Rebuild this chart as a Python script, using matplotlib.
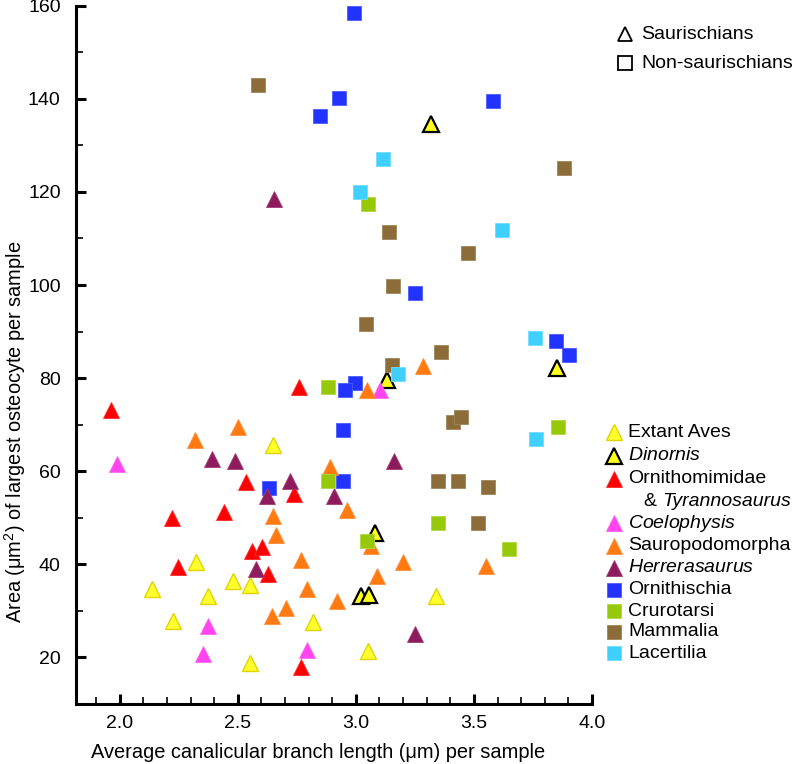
import matplotlib
matplotlib.use("Agg")
import matplotlib.pyplot as plt
from matplotlib.lines import Line2D
from matplotlib.ticker import MultipleLocator

plt.rcParams['font.family'] = ['Liberation Sans', 'DejaVu Sans']
plt.rcParams['mathtext.fontset'] = 'custom'
plt.rcParams['mathtext.rm'] = 'Liberation Sans'
plt.rcParams['mathtext.it'] = 'Liberation Sans:italic'

# values (x = branch length in um, y = area in um^2)
aves_x = [2.651, 3.339, 3.053, 2.817, 2.135, 2.324, 2.225, 2.375, 2.479, 2.550, 2.551]
aves_y = [65.7, 33.1, 21.3, 27.7, 34.8, 40.6, 27.9, 33.1, 36.5, 35.6, 18.9]

dinornis_x = [3.318, 3.130, 3.853, 3.080, 3.022, 3.054]
dinornis_y = [134.5, 79.7, 82.2, 46.7, 33.1, 33.4]

ornitho_x = [1.965, 2.758, 2.533, 2.737, 2.441, 2.223, 2.248, 2.561, 2.603, 2.629, 2.768]
ornitho_y = [73.1, 78.2, 57.6, 55.1, 51.3, 50.0, 39.4, 42.9, 43.8, 37.9, 18.0]

coelo_x = [1.989, 2.375, 2.352, 2.792, 3.104]
coelo_y = [61.6, 26.8, 20.7, 21.6, 77.5]

sauro_x = [2.318, 2.502, 3.047, 3.285, 2.892, 2.962, 2.651, 2.660, 2.768,
           2.792, 2.645, 2.705, 2.919, 3.089, 3.064, 3.198, 3.553]
sauro_y = [66.8, 69.5, 77.4, 82.5, 60.9, 51.7, 50.3, 46.4, 40.9,
           34.7, 29.0, 30.6, 32.2, 37.4, 44.0, 40.4, 39.7]

herrera_x = [2.653, 2.392, 2.488, 2.624, 2.722, 2.906, 3.162, 2.579, 3.250]
herrera_y = [118.4, 62.7, 62.3, 54.6, 57.8, 54.6, 62.2, 39.0, 25.0]

ornithi_x = [2.994, 2.930, 2.850, 3.580, 3.250, 3.846, 3.903, 2.998, 2.956, 2.944, 2.944, 2.631]
ornithi_y = [158.4, 140.2, 136.3, 139.6, 98.2, 87.9, 84.9, 78.9, 77.5, 68.8, 57.8, 56.3]

cruro_x = [3.051, 2.884, 2.884, 3.046, 3.350, 3.649, 3.858]
cruro_y = [117.3, 78.2, 57.9, 45.1, 48.9, 43.2, 69.5]

mamm_x = [2.587, 3.139, 3.473, 3.159, 3.043, 3.360, 3.153, 3.410, 3.447,
          3.349, 3.433, 3.560, 3.517, 3.882]
mamm_y = [142.9, 111.3, 106.8, 99.7, 91.7, 85.7, 82.9, 70.6, 71.7,
          57.9, 58.0, 56.6, 48.8, 125.1]

lacert_x = [3.116, 3.019, 3.617, 3.758, 3.177, 3.763]
lacert_y = [127.0, 119.9, 111.8, 88.6, 80.9, 66.9]

# (label, x, y, marker, face, edge, edge width) -- in drawing order
groups = [
    ('Ornithischia', ornithi_x, ornithi_y, 's', '#2233ff', '#4a5cff', 0.6),
    ('Extant Aves', aves_x, aves_y, '^', '#ffff2e', '#e2d400', 1.0),
    ('$\\it{Dinornis}$', dinornis_x, dinornis_y, '^', '#ffff1a', 'black', 1.6),
    ('Ornithomimidae', ornitho_x, ornitho_y, '^', '#ff0000', '#ff2a2a', 0.6),
    ('$\\it{Coelophysis}$', coelo_x, coelo_y, '^', '#ff44f0', '#ff66f2', 0.6),
    ('Sauropodomorpha', sauro_x, sauro_y, '^', '#ff7a10', '#ff9040', 0.6),
    ('$\\it{Herrerasaurus}$', herrera_x, herrera_y, '^', '#8e1b5e', '#a23a72', 0.6),
    ('Crurotarsi', cruro_x, cruro_y, 's', '#98c80a', '#b0d840', 0.6),
    ('Mammalia', mamm_x, mamm_y, 's', '#8c6d3a', '#a08458', 0.6),
    ('Lacertilia', lacert_x, lacert_y, 's', '#40d0ff', '#70dcff', 0.6),
]
legend_order = ['Extant Aves', '$\\it{Dinornis}$', 'Ornithomimidae', '$\\it{Coelophysis}$',
                'Sauropodomorpha', '$\\it{Herrerasaurus}$', 'Ornithischia',
                'Crurotarsi', 'Mammalia', 'Lacertilia']

W, H = 796, 764
fig = plt.figure(figsize=(W / 100, H / 100), dpi=100)
ax = fig.add_axes([76 / W, 1 - 704 / H, 516 / W, 698.3 / H])

for name, xs, ys, mk, fc, ec, lw in groups:
    ms = 11.6 if mk == '^' else 10.6
    ax.plot(xs, ys, ls='none', marker=mk, ms=ms, mfc=fc, mec=ec, mew=lw)

ax.set_xlim(1.815, 4.0)
ax.set_ylim(10, 160)
ax.xaxis.set_major_locator(MultipleLocator(0.5))
ax.xaxis.set_minor_locator(MultipleLocator(0.1))
ax.yaxis.set_major_locator(MultipleLocator(20))
ax.yaxis.set_minor_locator(MultipleLocator(10))
ax.set_yticks([20, 40, 60, 80, 100, 120, 140, 160])
ax.set_xticks([2.0, 2.5, 3.0, 3.5, 4.0])

for s in ['top', 'right']:
    ax.spines[s].set_visible(False)
for s in ['left', 'bottom']:
    ax.spines[s].set_linewidth(2.2)

ax.tick_params(which='major', direction='in', length=7, width=2.2, labelsize=14)
ax.tick_params(which='minor', direction='in', length=5, width=1.2)
ax.tick_params(axis='x', which='major', pad=8)
ax.tick_params(axis='y', which='major', pad=11)

ax.set_xlabel('Average canalicular branch length (\u03bcm) per sample', fontsize=14.4)
ax.set_ylabel('Area (\u03bcm$^2$) of largest osteocyte per sample', fontsize=14.4)
ax.xaxis.set_label_coords(0.469, -0.056)
ax.yaxis.set_label_coords(-0.093, 0.39)


def fx(px):
    return px / W


def fy(py):
    return 1 - py / H


# shape legend (top right)
for i, (mk, lab) in enumerate([('^', 'Saurischians'), ('s', 'Non-saurischians')]):
    yy = 34.3 + 29 * i
    fig.add_artist(Line2D([fx(625)], [fy(yy)], transform=fig.transFigure, ls='none',
                          marker=mk, ms=10.5, mfc='none', mec='black', mew=1.3))
    fig.text(fx(641), fy(yy), lab, fontsize=14, va='center', ha='left')

# group legend (right)
style = {g[0]: g for g in groups}
row_y = [432, 455.5, 479, 523, 545.5, 567.5, 589.5, 611, 632, 653]
for yy, lab in zip(row_y, legend_order):
    name, xs, ys, mk, fc, ec, lw = style[lab]
    ms = 11.6 if mk == '^' else 10.6
    fig.add_artist(Line2D([fx(614)], [fy(yy)], transform=fig.transFigure, ls='none',
                          marker=mk, ms=ms, mfc=fc, mec=ec, mew=lw))
    fig.text(fx(628), fy(yy), lab, fontsize=14, va='center', ha='left')
fig.text(fx(643), fy(501), '&', fontsize=14, va='center', ha='left')
fig.text(fx(662), fy(501), 'Tyrannosaurus', fontsize=14, fontstyle='italic',
         va='center', ha='left')

fig.savefig('out.png', dpi=100)
